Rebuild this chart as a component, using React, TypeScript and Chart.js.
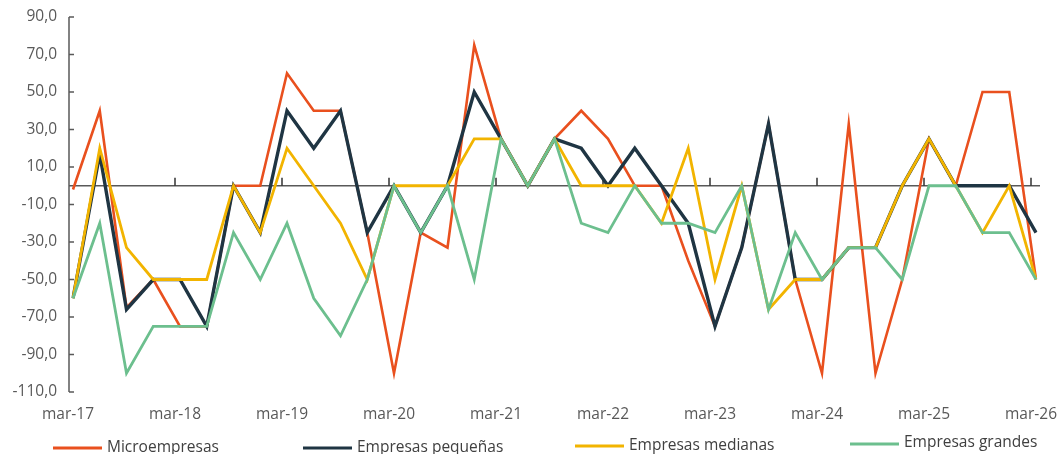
import React, { useEffect, useRef } from "react";
import { Chart, registerables } from "chart.js";

Chart.register(...registerables);

// ---- data ----
const years = ["17", "18", "19", "20", "21", "22", "23", "24", "25", "26"];
const months = ["mar", "jun", "sep", "dic"];
const categories = years.flatMap((y) => months.map((m) => `${m}-${y}`)).slice(0, 37);

const yTicks = [-110, -90, -70, -50, -30, -10, 10, 30, 50, 70, 90];

const seriesNames = ["Microempresas", "Empresas pequeñas", "Empresas medianas", "Empresas grandes"];

const microempresas = [-2, 40, -65, -50, -75, -75, 0, 0, 60, 40, 40, -25, -100, -25, -33, 75, 25, 0, 25, 40, 25, 0, 0, -40, -75, -33, 33, -50, -100, 33, -100, -50, 25, 0, 50, 50, -50];
const pequenas = [-60, 17, -66, -50, -50, -75, 0, -25, 40, 20, 40, -25, 0, -25, 0, 50, 25, 0, 25, 20, 0, 20, 0, -20, -75, -33, 33, -50, -50, -33, -33, 0, 25, 0, 0, 0, -25];
const medianas = [-60, 20, -33, -50, -50, -50, 0, -25, 20, 0, -20, -50, 0, 0, 0, 25, 25, 0, 25, 0, 0, 0, -20, 20, -50, 0, -66, -50, -50, -33, -33, 0, 25, 0, -25, 0, -50];
const grandes = [-60, -20, -100, -75, -75, -75, -25, -50, -20, -60, -80, -50, 0, -25, 0, -50, 25, 0, 25, -20, -25, 0, -20, -20, -25, 0, -66, -25, -50, -33, -33, -50, 0, 0, -25, -25, -50];

const seriesValues = [microempresas, pequenas, medianas, grandes];
const seriesColors = ["#E9501E", "#1F3543", "#F2B400", "#6CBF8E"];
const seriesWidths = [2.6, 3.4, 2.8, 2.8];

const FONT = "'Open Sans', sans-serif";
const AXIS_COLOR = "#595959";

const refAxes = {
  id: "refAxes",
  beforeDatasetsDraw(chart: any) {
    const { ctx, chartArea, scales } = chart;
    const xs = scales.x;
    const ys = scales.y;
    const axisX = chartArea.left - 4;
    const zeroY = ys.getPixelForValue(0);
    ctx.save();
    ctx.strokeStyle = AXIS_COLOR;
    ctx.lineWidth = 1.5;
    ctx.beginPath();
    ctx.moveTo(axisX, ys.getPixelForValue(yTicks[yTicks.length - 1]));
    ctx.lineTo(axisX, ys.getPixelForValue(yTicks[0]));
    yTicks.forEach((v) => {
      const py = ys.getPixelForValue(v);
      ctx.moveTo(axisX, py);
      ctx.lineTo(axisX + 5, py);
    });
    ctx.moveTo(axisX, zeroY);
    ctx.lineTo(chartArea.right + 4, zeroY);
    ctx.stroke();
    ctx.strokeStyle = "#333333";
    ctx.beginPath();
    categories.forEach((_, i) => {
      if (i % 4 === 0 && i > 0) {
        const px = xs.getPixelForValue(i) - 5;
        ctx.moveTo(px, zeroY);
        ctx.lineTo(px, zeroY - 8);
      }
    });
    ctx.stroke();
    ctx.restore();
  },
};

const legendX = [53, 303, 575, 850];
const legendLineY = [448, 448, 446, 444];
const legendBaseY = [452, 452, 450, 447];

const refLegend = {
  id: "refLegend",
  afterDraw(chart: any) {
    const { ctx } = chart;
    ctx.save();
    ctx.font = `15.5px ${FONT}`;
    ctx.textBaseline = "alphabetic";
    ctx.textAlign = "left";
    seriesNames.forEach((name, i) => {
      ctx.strokeStyle = seriesColors[i];
      ctx.lineWidth = 3;
      ctx.beginPath();
      ctx.moveTo(legendX[i], legendLineY[i]);
      ctx.lineTo(legendX[i] + 49, legendLineY[i]);
      ctx.stroke();
      ctx.fillStyle = "#404040";
      ctx.fillText(name, legendX[i] + 54, legendBaseY[i]);
    });
    ctx.restore();
  },
};

export default function App() {
  const canvasRef = useRef<HTMLCanvasElement | null>(null);

  useEffect(() => {
    if (!canvasRef.current) return;
    const chart = new Chart(canvasRef.current, {
      type: "line",
      data: {
        labels: categories,
        datasets: seriesNames.map((name, i) => ({
          label: name,
          data: seriesValues[i],
          borderColor: seriesColors[i],
          backgroundColor: seriesColors[i],
          borderWidth: seriesWidths[i],
          pointRadius: 0,
          tension: 0,
          fill: false,
          order: seriesNames.length - 1 - i,
        })),
      },
      options: {
        responsive: false,
        animation: false,
        layout: { padding: { top: 17, right: 21, left: 0, bottom: 0 } },
        plugins: {
          legend: { display: false },
          tooltip: { enabled: false },
        },
        scales: {
          x: {
            type: "category",
            offset: false,
            grid: { display: false, drawTicks: false },
            border: { display: false },
            ticks: {
              autoSkip: false,
              maxRotation: 0,
              minRotation: 0,
              padding: 13,
              labelOffset: -5,
              color: AXIS_COLOR,
              font: { family: FONT, size: 15.5 },
              callback: (_v: any, i: number) => (i % 4 === 0 ? categories[i] : ""),
            },
            afterFit: (scale: any) => {
              scale.height = 62;
              scale.paddingLeft = 0;
              scale.paddingRight = 0;
            },
          },
          y: {
            min: -110,
            max: 90,
            grid: { display: false, drawTicks: false },
            border: { display: false },
            ticks: {
              padding: 16,
              color: AXIS_COLOR,
              font: { family: FONT, size: 15.5 },
              callback: (v: any) => Number(v).toFixed(1).replace(".", ","),
            },
            afterBuildTicks: (scale: any) => {
              scale.ticks = yTicks.map((v) => ({ value: v }));
            },
            afterFit: (scale: any) => {
              scale.width = 73;
              scale.paddingTop = 0;
              scale.paddingBottom = 0;
            },
          },
        },
      },
      plugins: [refAxes, refLegend],
    });
    return () => chart.destroy();
  }, []);

  return (
    <div style={{ position: "absolute", left: 0, top: 0, width: 1057, height: 454, background: "#fff" }}>
      <canvas ref={canvasRef} width={1057} height={454} style={{ display: "block" }} />
    </div>
  );
}
